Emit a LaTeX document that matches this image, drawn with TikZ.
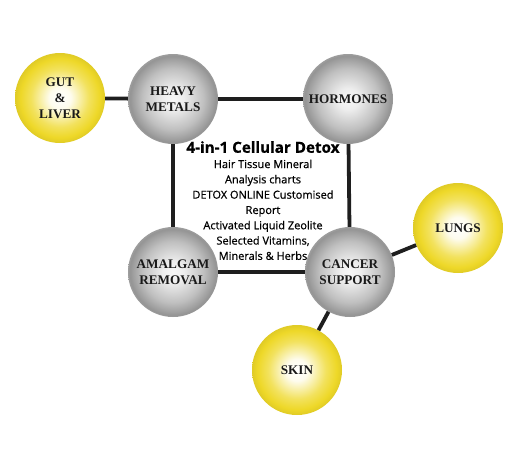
\documentclass[tikz,border=0pt]{standalone}
\usepackage{fontspec}
\setmainfont{Liberation Serif}
\newfontfamily\detoxfont[FakeBold=0.7]{Open Sans}
\definecolor{ballyellow}{RGB}{238,216,40}
\definecolor{ballgrey}{RGB}{158,158,158}
\definecolor{linkgrey}{RGB}{30,30,30}
\pgfdeclareradialshading{greyball}{\pgfpoint{0bp}{0bp}}{color(0bp)=(white!97!black); color(6bp)=(white!93!black); color(17bp)=(white!75!black); color(22.5bp)=(ballgrey); color(24bp)=(white!58!black); color(25bp)=(white!62!black); color(50bp)=(white!62!black)}
\pgfdeclareradialshading{yellowball}{\pgfpoint{0bp}{0bp}}{color(0bp)=(white); color(6bp)=(ballyellow!8!white); color(16bp)=(ballyellow!75!white); color(22bp)=(ballyellow); color(25bp)=(ballyellow!94!black); color(50bp)=(ballyellow!94!black)}

\begin{document}
\begin{tikzpicture}[x=1pt,y=1pt,yscale=-1,
  greybub/.style={circle,minimum size=90pt,inner sep=0pt,shading=greyball,align=center,
    font=\fontsize{13.2}{15.8}\selectfont\bfseries,text=black!90},
  yellowbub/.style={circle,minimum size=90pt,inner sep=0pt,shading=yellowball,align=center,
    font=\fontsize{13.2}{15.8}\selectfont\bfseries,text=black!90},
  link/.style={draw=linkgrey,line width=3.8pt}]
\useasboundingbox (0,0) rectangle (513,463);

% Nodes
\node[yellowbub] (gut) at (60,98) {GUT\\\&\\LIVER};
\node[greybub] (metals) at (173,99) {HEAVY\\METALS};
\node[greybub] (hormones) at (348,99) {HORMONES};
\node[greybub] (amalgam) at (173,272) {AMALGAM\\REMOVAL};
\node[greybub] (cancer) at (350,272) {CANCER\\SUPPORT};
\node[yellowbub] (lungs) at (458,228) {LUNGS};
\node[yellowbub] (skin) at (297,370) {SKIN};

% Links
\path[link] (gut) -- (metals);
\path[link] (metals) -- (hormones);
\path[link] (hormones) -- (cancer);
\path[link] (metals) -- (amalgam);
\path[link] (amalgam) -- (cancer);
\path[link] (cancer) -- (lungs);
\path[link] (cancer) -- (skin);

% Text Node
\node[anchor=north,inner sep=0pt,align=center,
  font=\detoxfont\fontsize{11}{15.3}\selectfont] (detox) at (263,141)
  {{\fontsize{15.2}{16}\selectfont\bfseries 4-in-1 Cellular Detox}\\
   Hair Tissue Mineral\\Analysis charts\\DETOX ONLINE Customised\\Report\\
   Activated Liquid Zeolite\\Selected Vitamins,\\Minerals \& Herbs};
\end{tikzpicture}
\end{document}
